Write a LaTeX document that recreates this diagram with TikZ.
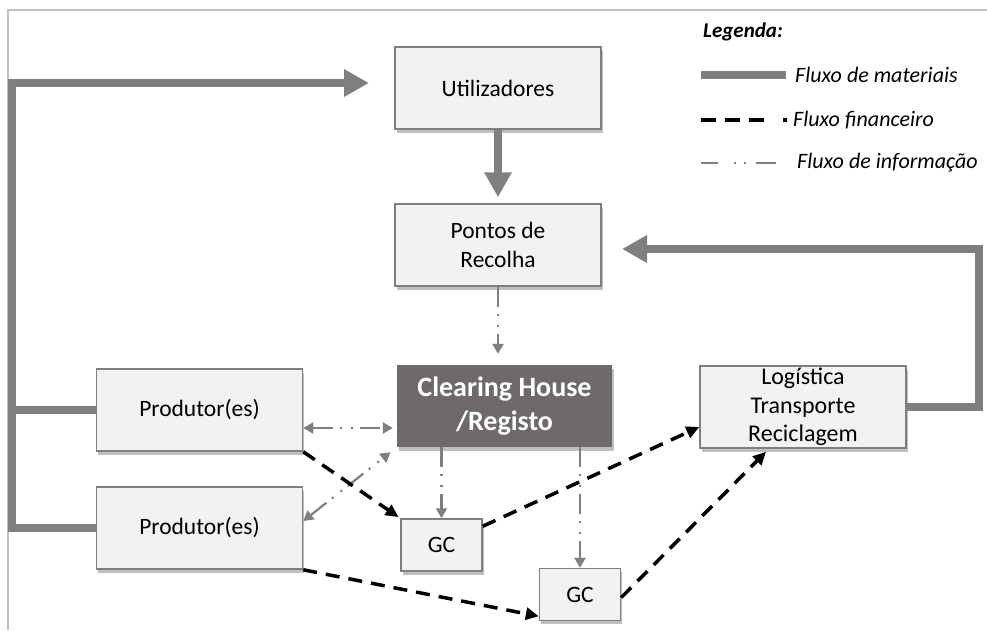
\documentclass[tikz,border=0pt]{standalone}
\usepackage{fontspec}
\setmainfont{Carlito}
\usetikzlibrary{arrows.meta,shadows,calc}

\definecolor{boxfill}{HTML}{F2F2F2}
\definecolor{boxline}{HTML}{7F7F7F}
\definecolor{flowgray}{HTML}{7F7F7F}
\definecolor{chfill}{HTML}{6F6A6A}
\definecolor{framegray}{HTML}{C0C0C0}

\tikzset{
  boxshadow/.style={drop shadow={shadow xshift=1.5pt, shadow yshift=-3.5pt, fill=black, opacity=0.25}},
  stage/.style={draw=boxline, line width=1.5pt, fill=boxfill, minimum width=206pt,
    minimum height=82pt, inner sep=0pt, align=center,
    font=\fontsize{23.5}{28.5}\selectfont, boxshadow},
  gcbox/.style={stage, minimum width=81pt, minimum height=52pt},
  hub/.style={fill=chfill, minimum width=215pt, minimum height=82pt, inner sep=0pt,
    align=center, text=white, font=\fontsize{28}{34}\selectfont\bfseries, boxshadow},
  matline/.style={draw=flowgray, line width=8pt},
  matarrow/.style={matline, -{Triangle[length=25pt,width=26pt]}},
  infoline/.style={draw=flowgray, line width=2.2pt,
    dash pattern=on 20pt off 7pt on 2pt off 9pt on 2pt off 7pt},
  infotip/.tip={Triangle[length=10pt,width=11pt]},
  infoarrow/.style={infoline, -infotip},
  infoboth/.style={infoline, infotip-infotip},
  finline/.style={draw=black, line width=3.5pt, dash pattern=on 14pt off 9pt},
  finarrow/.style={finline, -{Triangle[length=13pt,width=12pt]}},
  legtext/.style={anchor=west, inner sep=0pt, font=\fontsize{22}{26}\selectfont\itshape},
}

\begin{document}
\begin{tikzpicture}[x=1pt, y=-1pt]
\useasboundingbox (0,0) rectangle (987,630);

% outer frame (top and left edges)
\draw[framegray, line width=1.5pt] (8,630) -- (8,10) -- (987,10);

% stages
\node[stage] (u)  at (498,88)    {Utilizadores};
\node[stage] (r)  at (498,245)   {Pontos de\\Recolha};
\node[hub]   (ch) at (504.5,406) {Clearing House\\/Registo};
\node[stage] (p1) at (199.5,410) {Produtor(es)};
\node[stage] (p2) at (199.5,528) {Produtor(es)};
\node[stage, font=\fontsize{24}{28.5}\selectfont] (l) at (803,407) {Logística\\Transporte\\Reciclagem};
\node[gcbox] (g1) at (441.5,545) {GC};
\node[gcbox] (g2) at (580,594.5) {GC};

% material flows
\coordinate (lx) at (12,0);
\coordinate (utin) at (369,83);
\draw[matarrow] (p2.west) -- (p2.west -| lx) |- (utin);
\draw[matline] (p1.west) -- (p1.west -| lx);
\draw[matarrow, shorten >=6pt] (u.south) -- (r.north);
\coordinate (rturn) at (979,249);
\coordinate (rin) at (622,249);
\draw[matarrow] (l.east) -| (rturn) -- (rin);

% information flows
\draw[infoarrow, shorten >=11pt] (r.south) -- (ch.north -| r.south);
\draw[infoboth, shorten >=4pt] ([yshift=-18pt]p1.east) -- ([yshift=-18pt]p1.east -| ch.west);
\draw[infoboth, shorten >=8pt] ([yshift=7pt]p2.east) -- (ch.south west);
\draw[infoarrow] (g1.north |- ch.south) -- (g1.north);
\draw[infoarrow] (g2.north |- ch.south) -- (g2.north);

% financial flows
\draw[finarrow, shorten >=2pt] (p1.south east) -- (g1.north west);
\draw[finarrow] (p2.south east) -- ([yshift=5pt]g2.south west);
\draw[finarrow] ([yshift=-8pt]g1.north east) -- ([yshift=-20pt]l.west);
\draw[finarrow] ([yshift=-3pt]g2.east) -- ([xshift=-37pt,yshift=-3pt]l.south);

% legend
\node[legtext, font=\fontsize{21}{25}\selectfont\bfseries\itshape] (lg) at (703,32) {Legenda:};
\coordinate (m0) at (701,75);  \coordinate (m1) at (786,75);
\coordinate (f0) at (701,120); \coordinate (f1) at (788,120);
\coordinate (i0) at (701,163); \coordinate (i1) at (777,163);
\draw[matline] (m0) -- (m1);
\draw[finline, dash pattern=on 15pt off 9pt on 15pt off 9pt on 15pt off 19pt on 4pt off 20pt] (f0) -- (f1);
\draw[infoline, dash pattern=on 17pt off 16pt on 2pt off 8pt on 2pt off 10pt on 20pt off 20pt] (i0) -- (i1);
\node[legtext] (lm) at (795,75)  {Fluxo de materiais};
\node[legtext] (lf) at (793,120) {Fluxo financeiro};
\node[legtext] (li) at (797,163) {Fluxo de informação};
\end{tikzpicture}
\end{document}
